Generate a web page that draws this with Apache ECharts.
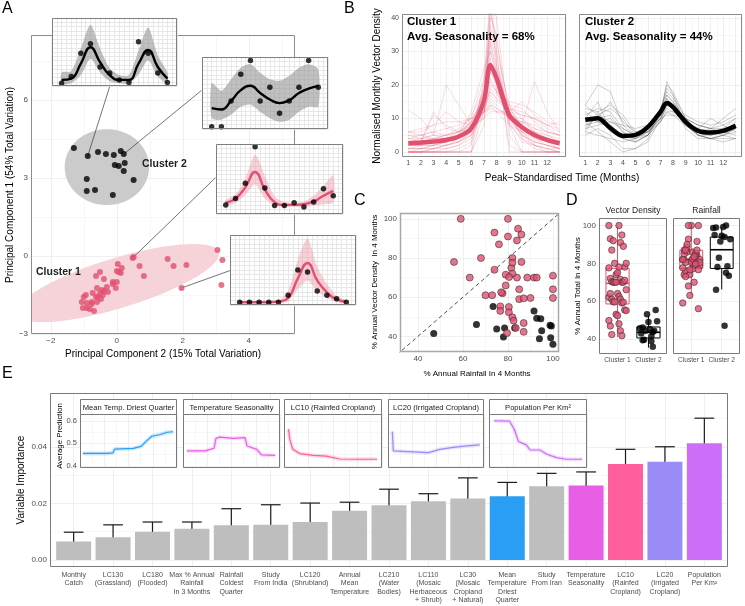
<!DOCTYPE html>
<html>
<head>
<meta charset="utf-8">
<title>Vector seasonality figure</title>
<script src="https://cdn.jsdelivr.net/npm/echarts@6.0.0/dist/echarts.min.js"></script>
<style>
html,body{margin:0;padding:0;background:#ffffff;}
#chart{width:745px;height:606px;}
</style>
</head>
<body>
<div id="chart"></div>
<script>
// ======================= DATA =======================
// Panel A: PCA scores [PC2, PC1]
const pcaCluster1 = [[0.48,-0.08],[0.51,-0.04],[0.69,-0.38],[0.82,-0.77],[1.54,-0.12],[1.72,-0.38],[2.11,-0.35],[3.05,0.23],[3.20,-0.15],[3.17,-1.12],[1.96,-1.23],[0.03,-0.31],[0.15,-0.46],[0.00,-0.58],[0.06,-0.62],[0.12,-0.65],[-0.51,-0.62],[-0.63,-0.77],[-0.39,-0.88],[-0.12,-1.00],[0.00,-1.00],[-0.12,-1.08],[-0.03,-1.23],[-0.30,-1.19],[-0.60,-1.23],[-0.45,-1.31],[-0.39,-1.35],[-0.27,-1.38],[-0.73,-1.42],[-0.51,-1.42],[-0.94,-1.50],[-1.00,-1.58],[-0.63,-1.58],[-0.48,-1.65],[-0.60,-1.77],[-0.76,-1.77],[-1.06,-1.77],[-0.91,-1.81],[-0.76,-1.85],[-1.03,-2.00],[-0.91,-2.00],[-0.82,-2.04],[-0.69,-2.12],[-0.57,-1.58],[-0.42,-1.50]];
const pcaCluster2 = [[-1.30,4.15],[-0.88,3.85],[-0.57,4.00],[-0.33,3.92],[-0.09,3.88],[0.12,4.04],[0.21,3.92],[0.24,3.58],[-0.06,3.50],[0.06,3.46],[0.21,3.27],[-0.91,2.96],[0.51,2.92],[-0.91,2.50],[-0.66,2.54],[-0.12,2.35]];
// cluster ellipses: centre and two semi-axis vectors (data units)
const ellipseCentre = [[0.03,-1.04],[-0.30,3.42]];
const ellipseAxisU = [[3.06,1.19],[1.28,0]];
const ellipseAxisV = [[0.22,-0.92],[0,1.46]];
// example-site connectors: from site score to inset anchor (data units)
const connectorFrom = [[-0.88,3.85],[0.21,3.92],[0.51,-0.04],[1.96,-1.23]];
const connectorTo = [[-0.21,6.54],[2.56,6.36],[2.99,3.01],[3.63,-0.47]];
// inset example sites (months 1..12, relative density)
const insetMonths = [1,2,3,4,5,6,7,8,9,10,11,12];
const insetCluster = [2,2,1,1];
const insetPoints = [
 [0.04,0.14,0.48,0.62,0.28,0.19,0.09,0.05,0.65,0.48,0.19,0.05],
 [0.03,0.03,0.39,0.76,0.95,0.39,0.58,0.22,0.39,0.58,0.95,0.58],
 [0.13,0.22,0.44,0.96,0.37,0.12,0.12,0.16,0.10,0.17,0.36,0.26],
 [0.04,0.04,0.04,0.04,0.04,0.14,0.50,0.47,0.20,0.14,0.09,0.04]];
const insetFit = [
 [0.09,0.11,0.33,0.57,0.35,0.16,0.09,0.09,0.33,0.53,0.28,0.11],
 [0.29,0.27,0.39,0.54,0.60,0.50,0.41,0.36,0.40,0.50,0.56,0.60],
 [0.16,0.22,0.38,0.60,0.35,0.17,0.13,0.13,0.14,0.18,0.26,0.33],
 [0.04,0.04,0.04,0.04,0.05,0.10,0.38,0.60,0.35,0.18,0.08,0.05]];
const insetUpper = [
 [0.20,0.22,0.55,0.90,0.55,0.26,0.16,0.16,0.52,0.86,0.45,0.20],
 [0.64,0.53,0.69,0.85,0.90,0.78,0.69,0.67,0.74,0.85,0.90,0.83],
 [0.20,0.28,0.50,0.85,0.55,0.25,0.17,0.16,0.18,0.26,0.40,0.55],
 [0.05,0.05,0.05,0.05,0.06,0.20,0.65,0.95,0.55,0.30,0.13,0.07]];
const insetLower = [
 [0.03,0.04,0.16,0.40,0.20,0.07,0.04,0.04,0.17,0.38,0.14,0.04],
 [0.15,0.13,0.20,0.31,0.34,0.24,0.15,0.10,0.13,0.24,0.31,0.31],
 [0.12,0.16,0.27,0.42,0.22,0.12,0.10,0.10,0.10,0.12,0.14,0.16],
 [0.03,0.03,0.03,0.03,0.03,0.05,0.22,0.35,0.20,0.10,0.04,0.03]];

// Panel B: peak-standardised time and normalised densities
const bTime = [1,2,3,4,5,6,7,7.5,8,9,10,11,12,13];
const bMean1 = [2.6,2.8,3.1,3.6,4.6,7.1,15.5,26,22,11,7.4,5.1,3.6,2.6];
const bMean2 = [9.6,10.1,7.1,4.8,5.1,7.5,12,14.6,13.4,9,6.3,5.8,6.3,7.8];
const bSites1 = [
 [0,0,0,0,0,0,18,48,30,0,0,0,0,0],[0,0,0,0,0,2,22,45,26,2,0,0,0,0],[0,0,0,0,0,0,12,40,35,5,0,0,0,0],
 [12.5,10,5,4,3,5,12,22,18,10,7,5,4,3],[6,6,8,12,9,8,12,16,14,10,9,6,5,4],[3,4,5,20,14,8,10,14,12,8,6,5,4,3],
 [5,5,6,5,6,9,16,25,20,11,8,21,12,6],[2,2,3,3,4,6,14,32,24,10,5,3,2,1],[0,0,1,2,3,5,15,35,26,12,5,2,1,0],
 [4,3,12,7,6,8,13,18,16,12,15,11,8,6],[6,7,8,9,9,10,12,13,12,12,11,10,8,7],[1,1,2,2,4,8,18,30,22,8,4,2,1,1],
 [0,1,1,2,3,6,20,38,28,9,3,2,1,0],[3,3,4,4,5,7,11,15,13,10,9,8,6,5],[2,2,3,3,4,10,22,28,20,9,6,4,3,2],
 [5,4,4,5,6,9,13,17,15,13,12,10,7,5],[0,0,0,1,2,4,16,42,33,12,4,1,0,0],[1,2,2,3,5,9,17,24,19,11,7,4,2,1],
 [2,3,11,8,6,7,10,12,12,11,10,7,5,3],[0,0,0,0,1,3,14,36,30,14,6,2,0,0],[4,4,5,5,6,8,12,19,17,14,13,9,6,5],
 [1,1,1,2,3,6,19,33,25,11,5,3,2,1],[3,3,3,4,6,11,18,21,18,12,8,6,4,3],[0,0,0,0,0,0,8,44,40,8,0,0,0,0],
 [6,5,4,4,5,7,12,20,18,15,14,12,9,8],[2,2,2,3,4,8,15,27,23,13,8,5,3,2],[1,1,2,3,5,12,25,30,24,12,6,3,2,1],
 [4,5,6,7,8,10,12,14,13,11,9,7,6,5],[0,0,1,1,2,5,13,26,21,14,10,6,3,1],[3,3,4,5,7,10,15,18,16,13,11,10,8,9]];
const bSites2 = [
 [14,20,18,8,5,7,12,20,18,10,5,4,4,4],[8,10,15,9,6,7,11,17,15,9,6,5,6,8],[12,9,7,5,4,6,11,15,14,10,8,7,10,13],
 [6,12,14,11,6,6,10,13,12,9,7,10,8,6],[10,15,6,4,3,5,11,21,17,8,5,5,6,7],[9,10,11,6,3,5,9,12,12,9,7,6,5,4],
 [7,8,9,8,7,8,10,11,11,10,8,7,7,8],[13,12,7,4,3,5,13,18,16,9,6,6,7,10],[5,7,5,1,1,3,10,16,14,8,5,4,5,6],
 [9,6,3,0,1,4,12,19,17,10,6,5,6,9],[11,13,12,7,5,6,10,14,13,10,8,7,6,5],[8,9,8,5,4,6,10,14,13,8,5,4,5,7],
 [14,11,9,7,5,6,9,12,11,8,6,7,8,10],[6,5,4,3,4,7,13,17,15,9,5,4,3,4],[10,9,10,6,4,5,12,16,14,7,4,4,5,7],
 [7,11,13,10,5,5,9,14,13,11,9,8,9,11]];

// Panel C/D: % annual rainfall and vector density within 4 months
const cRain1 = [59,80,74,80,76,84.5,86,84,68,56,74,82,81.5,82,86,82,79,80.5,84,88.6,91.6,92.8,100,63,79,100,77.6,77,85,70,73,85,90,87,100,76.6,76.6,80.4,80.4,82,82.5,87,83.5,87,79.6];
const cVec1 = [100,100,93,91,87,95,92,89,80,78,74,80,75,77.6,78,72,71.5,70.3,70,70,70,70,71,70,66,64,62,62.5,64,61,61,59,59.6,59.4,59.6,55.3,53,55,52.3,49.7,48,46.8,44.3,42.3,41.7];
const cRain2 = [47,66,75,78,78.5,83,73.4,91.6,92.8,94.6,98.7,99.3,95,94,99,100];
const cVec2 = [41.4,46,43.7,39.6,44.3,44.3,55.3,53,49.3,49,45.6,45.3,42.9,38.8,39.3,35.9];
const identityRef = [[0,0],[120,120]];
const dGroups = ['Cluster 1','Cluster 2'];
const dFacets = ['Vector Density','Rainfall'];
// box stats: [lower whisker, Q1, median, Q3, upper whisker]
const dBoxVector = [[41,58.5,69.4,77.3,100],[35.4,40.5,43.5,46.3,52.4]];
const dBoxRain = [[63,77.3,82,86.9,100],[66.2,77.3,87.2,93.9,99.1]];

// Panel E: variable importance
const eNames = ['Monthly\nCatch','LC130\n(Grassland)','LC180\n(Flooded)','Max % Annual\nRainfall\nIn 3 Months','Rainfall\nColdest\nQuarter','Study\nFrom India','LC120\n(Shrubland)','Annual\nMean\nTemperature','LC210\n(Water\nBodies)','LC110\n(Mosaic\nHerbaceous\n+ Shrub)','LC30\n(Mosaic\nCropland\n+ Natural)','Mean\nTemperature\nDriest\nQuarter','Study\nFrom Iran','Temperature\nSeasonality','LC10\n(Rainfed\nCropland)','LC20\n(Irrigated\nCropland)','Population\nPer Km²'];
const eImportance = [0.0065,0.0080,0.0100,0.0110,0.0123,0.0124,0.0134,0.0174,0.0193,0.0207,0.0217,0.0225,0.0260,0.0263,0.0339,0.0347,0.0412];
const eLow = [0.0033,0.0033,0.0067,0.0086,0.0067,0.0054,0.0069,0.0146,0.0140,0.0180,0.0142,0.0175,0.0217,0.0215,0.0285,0.0293,0.0323];
const eHigh = [0.0098,0.0124,0.0134,0.0134,0.0181,0.0195,0.0201,0.0204,0.0250,0.0234,0.0290,0.0274,0.0306,0.0311,0.0391,0.0400,0.0501];
const eInsetTitles = ['Mean Temp. Driest Quarter','Temperature Seasonality','LC10 (Rainfed Cropland)','LC20 (Irrigated Cropland)','Population Per Km²'];
const eInsetCurves = [
 [[0.03,0.455],[0.27,0.455],[0.34,0.457],[0.355,0.474],[0.55,0.477],[0.63,0.486],[0.70,0.516],[0.74,0.531],[0.83,0.539],[0.90,0.549],[0.96,0.551]],
 [[0.04,0.466],[0.23,0.466],[0.32,0.478],[0.34,0.522],[0.38,0.527],[0.52,0.522],[0.64,0.525],[0.66,0.488],[0.76,0.473],[0.81,0.448],[0.95,0.446]],
 [[0.045,0.563],[0.06,0.516],[0.09,0.473],[0.16,0.454],[0.30,0.446],[0.43,0.443],[0.57,0.430],[0.71,0.429],[0.95,0.429]],
 [[0.045,0.552],[0.055,0.466],[0.42,0.458],[0.54,0.473],[0.68,0.482],[0.82,0.488],[0.955,0.493]],
 [[0.05,0.600],[0.21,0.598],[0.26,0.560],[0.30,0.508],[0.38,0.493],[0.42,0.470],[0.52,0.470],[0.59,0.451],[0.69,0.436],[0.79,0.429],[0.95,0.429]]];

// ======================= STYLE / LAYOUT =======================
const FF = '"Liberation Sans", Arial, Helvetica, sans-serif';
const PINK = '#e1506f';
const GREYBAR = '#bebebe';
const barColorOf = i => ({11:'#2a9ef5',13:'#e85fe6',14:'#ff5f9c',15:'#9a8cf6',16:'#cc6ef8'})[i] || GREYBAR;
const insetLineColors = ['#2a9ef5','#e85fe6','#ff5f9c','#9a8cf6','#cc6ef8'];
const MAJ = '#ebebeb', MIN = '#f5f5f5', T = 'rgba(0,0,0,0)';
function cyc(n, maj, mnr){const a=[];for(let i=0;i<n;i++)a.push(T);maj.forEach(i=>a[i]=MAJ);mnr.forEach(i=>a[i]=MIN);return a;}
const near = (v,s) => Math.abs(v/s - Math.round(v/s)) < 1e-6;
const minus = n => (n < 0 ? '\u2212' + Math.abs(n) : String(n));

const grids=[], xAxes=[], yAxes=[], series=[], graphics=[];
function addGrid(l,t,w,h){grids.push({left:l,top:t,width:w,height:h}); return grids.length-1;}
function axis(gi,min,max,interval,colors,fmt,fs,z,extra){
  return {type:'value',gridIndex:gi,min:min,max:max,interval:interval,z:z||0,
    axisLine:{show:false},axisTick:{show:false},
    splitLine:{show:true,lineStyle:{color:colors,width:0.8}},
    axisLabel: fmt ? Object.assign({show:true,formatter:fmt,color:'#4d4d4d',fontSize:fs||8,margin:3,fontFamily:FF}, extra||{}) : {show:false}};
}
function frame(l,t,w,h,color,z,lw){graphics.push({type:'rect',z:z,silent:true,shape:{x:l+0.5,y:t+0.5,width:w-1,height:h-1},style:{fill:'none',stroke:color,lineWidth:lw||1}});}
function bg(l,t,w,h,z){graphics.push({type:'rect',z:z,silent:true,shape:{x:l,y:t,width:w,height:h},style:{fill:'#ffffff'}});}
function txt(x,y,s,o){o=o||{};graphics.push({type:'text',x:x,y:y,z:9,silent:true,rotation:o.rot||0,
  style:{text:s,fill:o.color||'#000',fontSize:o.size||10,fontFamily:FF,fontWeight:o.weight||'normal',align:o.align||'left',verticalAlign:o.va||'middle'}});}

// ---------- Panel A main ----------
const gA = addGrid(31,35,264,299);
xAxes.push(axis(gA,-2.6,5.4,0.2,cyc(10,[3],[8]),v=>near(v,2)?minus(Math.round(v)):'',8));
yAxes.push(axis(gA,-3,8.5,1.5,[MAJ,MIN],v=>near(v,3)?minus(Math.round(v)):'',8));
frame(31,35,264,299,'#8c8c8c',3);
const ellipseFill = ['#f6d3d9','#cbcbcb'];
series.push({type:'custom',xAxisIndex:gA,yAxisIndex:gA,z:1,silent:true,
  data: ellipseCentre.map((c,i)=>[c[0],c[1],ellipseAxisU[i][0],ellipseAxisU[i][1],ellipseAxisV[i][0],ellipseAxisV[i][1]]),
  encode:{x:0,y:1},
  renderItem:function(params,api){
    const cx=api.value(0),cy=api.value(1),ux=api.value(2),uy=api.value(3),vx=api.value(4),vy=api.value(5);
    const pts=[];
    for(let k=0;k<90;k++){const t=k/90*2*Math.PI;pts.push(api.coord([cx+Math.cos(t)*ux+Math.sin(t)*vx, cy+Math.cos(t)*uy+Math.sin(t)*vy]));}
    const cs=params.coordSys;
    return {type:'polygon',shape:{points:pts},style:{fill:ellipseFill[params.dataIndex]},
      clipPath:{type:'rect',shape:{x:cs.x,y:cs.y,width:cs.width,height:cs.height}}};
  }});
series.push({type:'custom',xAxisIndex:gA,yAxisIndex:gA,z:2,silent:true,
  data: connectorFrom.map((p,i)=>[p[0],p[1],connectorTo[i][0],connectorTo[i][1]]),
  encode:{x:[0,2],y:[1,3]},
  renderItem:function(params,api){
    const a=api.coord([api.value(0),api.value(1)]), b=api.coord([api.value(2),api.value(3)]);
    return {type:'line',shape:{x1:a[0],y1:a[1],x2:b[0],y2:b[1]},style:{stroke:'#3a3a3a',lineWidth:0.7}};
  }});
series.push({type:'scatter',xAxisIndex:gA,yAxisIndex:gA,z:2,silent:true,symbolSize:6,data:pcaCluster1,itemStyle:{color:PINK}});
series.push({type:'scatter',xAxisIndex:gA,yAxisIndex:gA,z:2,silent:true,symbolSize:6,data:pcaCluster2,itemStyle:{color:'#000'}});

// ---------- Panel A insets ----------
const aInsetBox = [[52,18,125,68],[202,57,126,72],[216,144,127,70],[230,235,126,70]];
aInsetBox.forEach((b,i)=>{
  const g = addGrid(b[0],b[1],b[2],b[3]);
  bg(b[0],b[1],b[2],b[3],4);
  xAxes.push(axis(g,0,13,0.5,['#e2e2e2'],null,8,5));
  yAxes.push(axis(g,0,1,0.0625,['#e2e2e2'],null,8,5));
  frame(b[0],b[1],b[2],b[3],'#7f7f7f',7);
  const c1 = insetCluster[i]===1;
  const lineCol = c1 ? PINK : '#000';
  const bandCol = c1 ? 'rgba(240,150,170,0.45)' : 'rgba(150,150,150,0.6)';
  series.push({type:'custom',xAxisIndex:g,yAxisIndex:g,z:6,silent:true,
    data:[[insetMonths[0],insetLower[i][0]]],encode:{x:0,y:1},
    renderItem:function(params,api){
      const up=insetMonths.map((m,k)=>api.coord([m,insetUpper[i][k]]));
      const lo=insetMonths.map((m,k)=>api.coord([m,insetLower[i][k]])).reverse();
      const cs=params.coordSys;
      return {type:'polygon',shape:{points:up.concat(lo),smooth:0.25},style:{fill:bandCol},
        clipPath:{type:'rect',shape:{x:cs.x,y:cs.y,width:cs.width,height:cs.height}}};
    }});
  series.push({type:'line',xAxisIndex:g,yAxisIndex:g,z:6,silent:true,smooth:true,symbol:'none',data:insetMonths.map((m,k)=>[m,insetFit[i][k]]),lineStyle:{color:lineCol,width:2.4}});
  series.push({type:'scatter',xAxisIndex:g,yAxisIndex:g,z:6,silent:true,symbolSize:5.5,data:insetMonths.map((m,k)=>[m,insetPoints[i][k]]),itemStyle:{color:'#000'}});
});

// ---------- Panel B ----------
const bBoxes = [[402,14,164,143],[579,14,163,143]];
bBoxes.forEach((b,j)=>{
  const g = addGrid(b[0],b[1],b[2],b[3]);
  xAxes.push(axis(g,0.5,13.5,0.5,[MIN,MAJ],v=>(near(v,1)&&v>0.9&&v<12.1)?String(Math.round(v)):'',7));
  yAxes.push(axis(g,-1.5,41.2,0.5,cyc(20,[3],[13]),j===0?(v=>(near(v,10)&&v>-0.5)?String(Math.round(v)):''):null,7));
  frame(b[0],b[1],b[2],b[3],'#8c8c8c',3);
  const sites = j===0 ? bSites1 : bSites2;
  const thinCol = j===0 ? 'rgba(225,80,111,0.25)' : 'rgba(70,70,70,0.33)';
  sites.forEach(s=>{
    series.push({type:'line',xAxisIndex:g,yAxisIndex:g,z:2,silent:true,symbol:'none',data:bTime.map((t,k)=>[t,s[k]]),lineStyle:{color:thinCol,width:0.8}});
  });
  const mean = j===0 ? bMean1 : bMean2;
  series.push({type:'line',xAxisIndex:g,yAxisIndex:g,z:2,silent:true,symbol:'none',smooth:0.3,data:bTime.map((t,k)=>[t,mean[k]]),lineStyle:{color:j===0?PINK:'#000',width:4.5}});
});
txt(407,22,'Cluster 1',{weight:'bold',size:11.5});
txt(407,37,'Avg. Seasonality = 68%',{weight:'bold',size:11.5});
txt(585,22,'Cluster 2',{weight:'bold',size:11.5});
txt(585,37,'Avg. Seasonality = 44%',{weight:'bold',size:11.5});

// ---------- Panel C ----------
const gC = addGrid(400,213,159,139);
xAxes.push(axis(gC,32,102.7,2,cyc(10,[4],[9]),v=>(near(v,20)&&v>35)?String(Math.round(v)):'',8));
yAxes.push(axis(gC,32,103,2,cyc(10,[4],[9]),v=>(near(v,20)&&v>35)?String(Math.round(v)):'',8));
frame(400,213,159,139,'#a8a8a8',3,1.5);
series.push({type:'line',xAxisIndex:gC,yAxisIndex:gC,z:2,silent:true,symbol:'none',data:identityRef,lineStyle:{color:'#222',width:0.8,type:[4,3]}});
series.push({type:'scatter',xAxisIndex:gC,yAxisIndex:gC,z:2,silent:true,symbolSize:7,data:cRain2.map((x,i)=>[x,cVec2[i]]),itemStyle:{color:'#000'}});
series.push({type:'scatter',xAxisIndex:gC,yAxisIndex:gC,z:2,silent:true,symbolSize:7,data:cRain1.map((x,i)=>[x,cVec1[i]]),itemStyle:{color:PINK,borderColor:'#2b2b2b',borderWidth:0.7}});

// ---------- Panel D ----------
const dBoxes = [[599,218,68,136],[673,218,67,136]];
const jitter = i => ((((i*7)%13)-6)/6)*0.28;
dBoxes.forEach((b,f)=>{
  const g = addGrid(b[0],b[1],b[2],b[3]);
  xAxes.push(axis(g,0.4,2.6,0.2,cyc(5,[3],[]),v=>(near(v,1)&&v>0.9&&v<2.1)?dGroups[Math.round(v)-1]:'',6.6));
  yAxes.push(axis(g,32,104,2,cyc(10,[4],[9]),f===0?(v=>(near(v,20)&&v>35)?String(Math.round(v)):''):null,8));
  frame(b[0],b[1],b[2],b[3],'#7a7a7a',3);
  const stats = f===0 ? dBoxVector : dBoxRain;
  const boxCol = [PINK,'#000'];
  series.push({type:'custom',xAxisIndex:g,yAxisIndex:g,z:2,silent:true,
    data: stats.map((s,k)=>[k+1].concat(s)), encode:{x:0,y:[1,2,3,4,5]},
    renderItem:function(params,api){
      const x=api.value(0);
      const pLo=api.coord([x,api.value(1)]),pQ1=api.coord([x,api.value(2)]),pMd=api.coord([x,api.value(3)]),pQ3=api.coord([x,api.value(4)]),pHi=api.coord([x,api.value(5)]);
      const hw=api.size([0.75,0])[0]/2; const col=boxCol[params.dataIndex];
      return {type:'group',children:[
        {type:'line',shape:{x1:pHi[0],y1:pHi[1],x2:pQ3[0],y2:pQ3[1]},style:{stroke:col,lineWidth:1}},
        {type:'line',shape:{x1:pQ1[0],y1:pQ1[1],x2:pLo[0],y2:pLo[1]},style:{stroke:col,lineWidth:1}},
        {type:'rect',shape:{x:pQ3[0]-hw,y:pQ3[1],width:2*hw,height:pQ1[1]-pQ3[1]},style:{fill:'none',stroke:col,lineWidth:1}},
        {type:'line',shape:{x1:pMd[0]-hw,y1:pMd[1],x2:pMd[0]+hw,y2:pMd[1]},style:{stroke:col,lineWidth:1.6}}]};
    }});
  const v1 = f===0 ? cVec1 : cRain1, v2 = f===0 ? cVec2 : cRain2;
  series.push({type:'scatter',xAxisIndex:g,yAxisIndex:g,z:3,silent:true,symbolSize:6.5,data:v1.map((v,i)=>[1+jitter(i),v]),itemStyle:{color:PINK,borderColor:'#2b2b2b',borderWidth:0.7}});
  series.push({type:'scatter',xAxisIndex:g,yAxisIndex:g,z:3,silent:true,symbolSize:6.5,data:v2.map((v,i)=>[2+jitter(i+3),v]),itemStyle:{color:'#000'}});
  txt(b[0]+b[2]/2,211,dFacets[f],{align:'center',size:8.5,color:'#1a1a1a'});
});

// ---------- Panel E main ----------
const gE = addGrid(50,393,678,174);
xAxes.push(axis(gE,0.4,17.6,0.2,cyc(5,[3],[]),v=>(near(v,1)&&v>0.9&&v<17.1)?eNames[Math.round(v)-1]:'',7,0,{lineHeight:8.3,margin:4}));
yAxes.push(axis(gE,-0.0025,0.059,0.0025,cyc(8,[1],[5]),v=>(near(v,0.02)&&v>-0.001)?v.toFixed(2):'',8));
frame(50,393,678,174,'#7a7a7a',3);
series.push({type:'bar',xAxisIndex:gE,yAxisIndex:gE,z:2,silent:true,barWidth:35,
  data:eImportance.map((v,i)=>({value:[i+1,v],itemStyle:{color:barColorOf(i)}}))});
series.push({type:'custom',xAxisIndex:gE,yAxisIndex:gE,z:2,silent:true,
  data:eLow.map((lo,i)=>[i+1,lo,eHigh[i]]), encode:{x:0,y:[1,2]},
  renderItem:function(params,api){
    const x=api.value(0); const pl=api.coord([x,api.value(1)]), ph=api.coord([x,api.value(2)]);
    const hw=api.size([0.25,0])[0];
    const st={stroke:'#1a1a1a',lineWidth:1.2};
    return {type:'group',children:[
      {type:'line',shape:{x1:pl[0],y1:pl[1],x2:ph[0],y2:ph[1]},style:st},
      {type:'line',shape:{x1:pl[0]-hw,y1:pl[1],x2:pl[0]+hw,y2:pl[1]},style:st},
      {type:'line',shape:{x1:ph[0]-hw,y1:ph[1],x2:ph[0]+hw,y2:ph[1]},style:st}]};
  }});

// ---------- Panel E insets ----------
const eInsetBox = [[80,97],[183,97],[284,98],[388,96],[489,98]];
eInsetBox.forEach((b,i)=>{
  const l=b[0], w=b[1], top=414, h=54;
  const g = addGrid(l,top,w,h);
  bg(l,top,w,h,4);
  xAxes.push(axis(g,0,1,0.125,[MAJ,MIN],null,7,5));
  yAxes.push(axis(g,0.39,0.63,0.01,cyc(10,[1],[6]),i===0?(v=>near(v,0.1)?v.toFixed(1):''):null,7.5,5));
  frame(l,top,w,h,'#7a7a7a',7);
  graphics.push({type:'rect',z:7,silent:true,shape:{x:l+0.5,y:399.5,width:w-1,height:15},style:{fill:'#ffffff',stroke:'#7a7a7a',lineWidth:1}});
  txt(l+w/2,407.5,eInsetTitles[i],{align:'center',size:7.6,color:'#1a1a1a'});
  series.push({type:'line',xAxisIndex:g,yAxisIndex:g,z:6,silent:true,symbol:'none',data:eInsetCurves[i],lineStyle:{color:insetLineColors[i],width:4,opacity:0.22}});
  series.push({type:'line',xAxisIndex:g,yAxisIndex:g,z:6,silent:true,symbol:'none',data:eInsetCurves[i],lineStyle:{color:insetLineColors[i],width:1.2}});
});

// ---------- Texts ----------
txt(2,9,'A',{size:16});
txt(344,9,'B',{size:16});
txt(354,201,'C',{size:16});
txt(566,201,'D',{size:16});
txt(2,374,'E',{size:16});
txt(10,185,'Principal Component 1 (54% Total Variation)',{rot:Math.PI/2,align:'center',size:10});
txt(163,354,'Principal Component 2 (15% Total Variation)',{align:'center',size:10});
txt(142,164,'Cluster 2',{weight:'bold',size:10.5,color:'#222'});
txt(36,272,'Cluster 1',{weight:'bold',size:10.5,color:'#222'});
txt(377,86,'Normalised Monthly Vector Density',{rot:Math.PI/2,align:'center',size:10});
txt(562,178,'Peak\u2212Standardised Time (Months)',{align:'center',size:10});
txt(375,282,'% Annual Vector Density  In 4 Months',{rot:Math.PI/2,align:'center',size:8});
txt(477,374,'% Annual Rainfall In 4 Months',{align:'center',size:8});
txt(578,286,'% Annual Total In 4 Months',{rot:Math.PI/2,align:'center',size:8});
txt(21,480,'Variable Importance',{rot:Math.PI/2,align:'center',size:10});
txt(60,436,'Average Prediction',{rot:Math.PI/2,align:'center',size:7.8});

const chart = echarts.init(document.getElementById('chart'), null, {renderer:'canvas'});
chart.setOption({
  animation:false,
  backgroundColor:'#ffffff',
  textStyle:{fontFamily:FF},
  grid:grids, xAxis:xAxes, yAxis:yAxes, series:series,
  graphic:{elements:graphics}
});
</script>
</body>
</html>
